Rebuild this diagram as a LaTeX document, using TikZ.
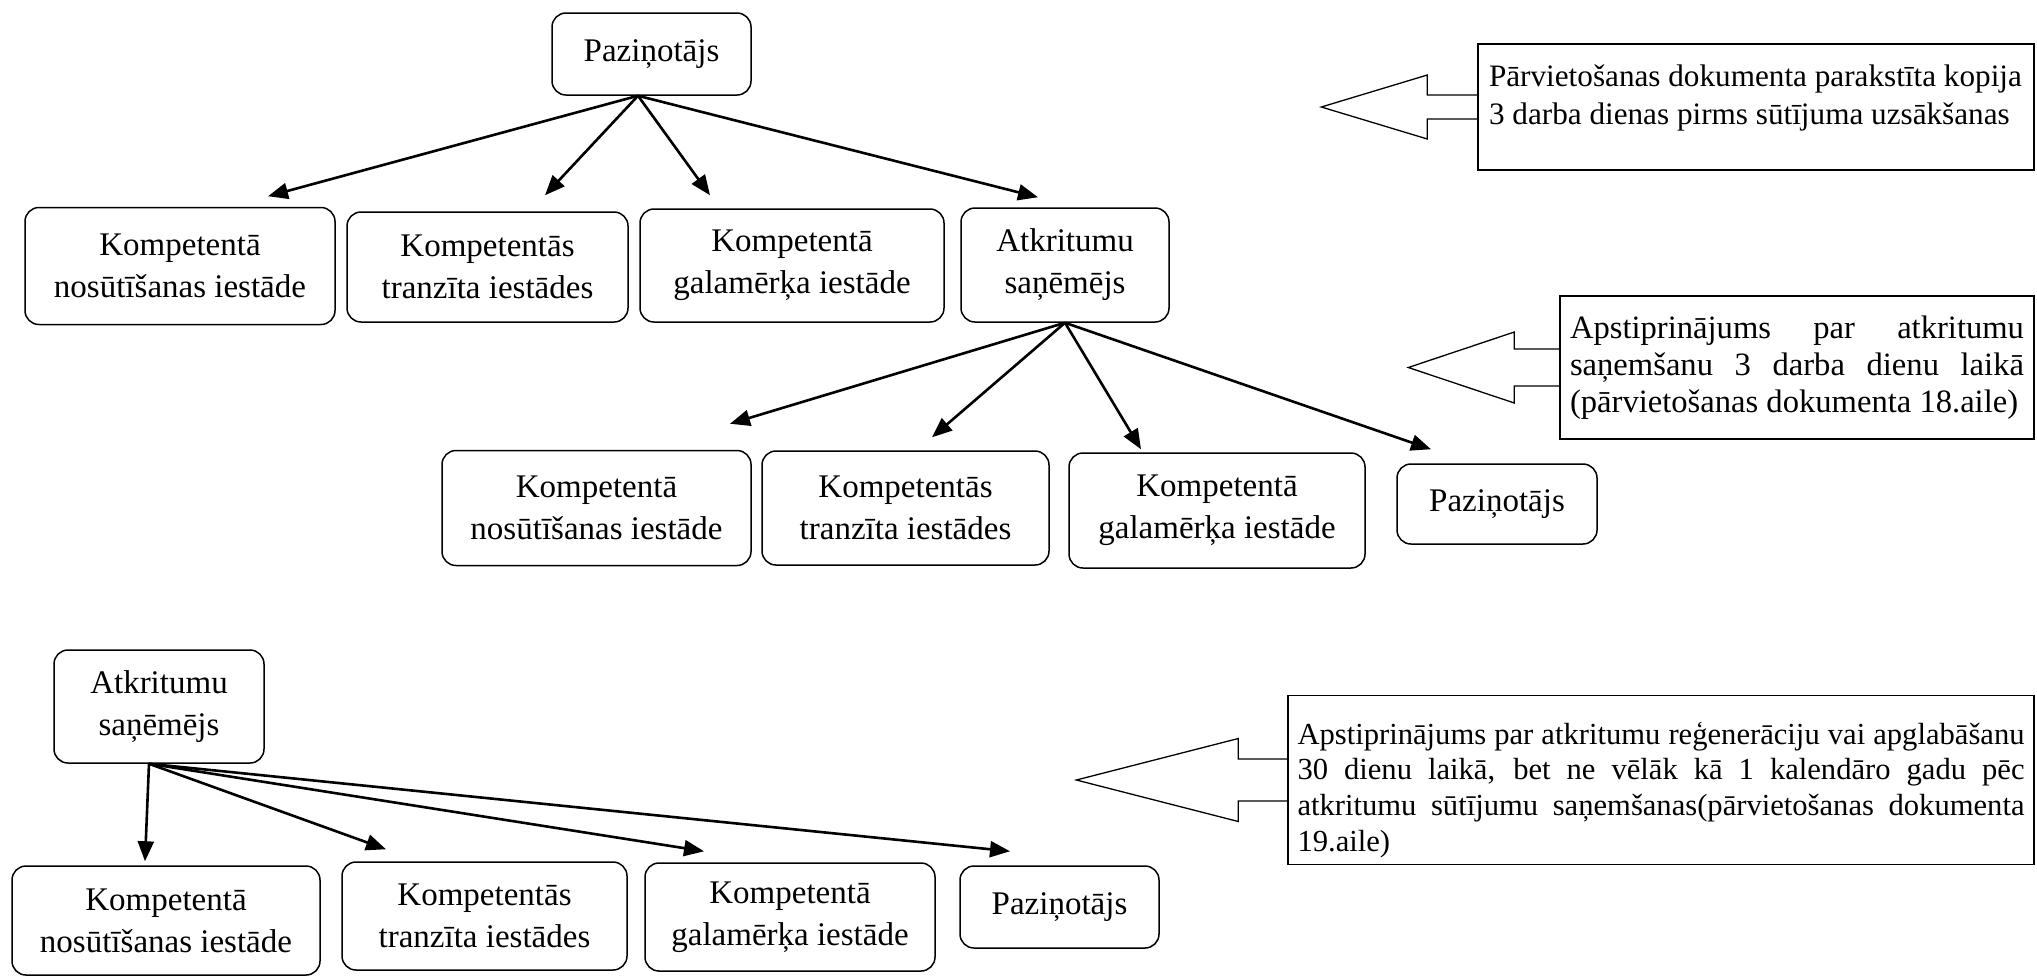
\documentclass[tikz,border=0pt]{standalone}
\usepackage{fontspec}
\setmainfont{Liberation Serif}
\usetikzlibrary{arrows.meta}

\tikzset{
  box/.style={draw, line width=0.75pt, rounded corners=7pt, align=center,
    font=\fontsize{16.5}{21}\selectfont},
  arr/.style={-{Triangle[length=10pt,width=8pt]}, line width=1.3pt},
  note/.style={draw, line width=0.7pt, align=justify},
  pointer/.style={line width=0.65pt},
}

\begin{document}
\begin{tikzpicture}[x=0.5pt, y=-0.5pt]
\useasboundingbox (0,0) rectangle (2037,976);

% first step
\node[box, minimum width=99.5pt, minimum height=41pt] (pz1) at (651.5,54) {Paziņotājs};
\node[box, minimum width=155pt, minimum height=58.5pt] (kn1) at (180,266) {Kompetentā\\nosūtīšanas iestāde};
\node[box, minimum width=140.5pt, minimum height=55pt] (kt1) at (487.5,267) {Kompetentās\\tranzīta iestādes};
\node[box, minimum width=152pt, minimum height=56.5pt] (kg1) at (792,265.5) {Kompetentā\\galamērķa iestāde};
\node[box, minimum width=104pt, minimum height=57pt] (as1) at (1065,265) {Atkritumu\\saņēmējs};

\draw[arr] ([xshift=-6.75pt]pz1.south) -- ([shift={(88,-10.5)}]kn1.north);
\draw[arr] ([xshift=-6.75pt]pz1.south) -- ([shift={(57.5,-16)}]kt1.north);
\draw[arr] ([xshift=-6.75pt]pz1.south) -- ([shift={(-82,-13)}]kg1.north);
\draw[arr] ([xshift=-6.75pt]pz1.south) -- ([shift={(-27,-10)}]as1.north);

\node[note, minimum width=278pt, minimum height=63pt, text width=267pt, inner xsep=5.5pt,
  font=\fontsize{15.6}{19}\selectfont] (c1) at (1756,107)
  {Pārvietošanas dokumenta parakstīta kopija\\3 darba dienas pirms sūtījuma uzsākšanas\par\vspace{-7pt}\mbox{}};
\draw[pointer] ([yshift=6pt]c1.west) -- ++(-25pt,0) -- ++(0,10pt) -- ++(-53pt,-16pt)
  -- ++(53pt,-16pt) -- ++(0,10pt) -- ++(25pt,0);

% second step
\node[box, minimum width=154.5pt, minimum height=57.5pt] (kn2) at (596.5,508) {Kompetentā\\nosūtīšanas iestāde};
\node[box, minimum width=143.5pt, minimum height=57pt] (kt2) at (905.5,508) {Kompetentās\\tranzīta iestādes};
\node[box, minimum width=148pt, minimum height=57.5pt] (kg2) at (1217,510.5) {Kompetentā\\galamērķa iestāde};
\node[box, minimum width=100pt, minimum height=40pt] (pz2) at (1497,504) {Paziņotājs};

\draw[arr] (as1.south) -- ([shift={(133.5,-26)}]kn2.north);
\draw[arr] (as1.south) -- ([shift={(26.5,-13)}]kt2.north);
\draw[arr] (as1.south) -- ([shift={(-76,-3)}]kg2.north);
\draw[arr] (as1.south) -- ([shift={(-66,-14)}]pz2.north);

\node[note, minimum width=237pt, minimum height=71.5pt, text width=227pt, inner xsep=5pt,
  font=\fontsize{16.3}{18.5}\selectfont] (c2) at (1797,367.5)
  {\makebox[\linewidth][s]{Apstiprinājums par atkritumu}\\
   \makebox[\linewidth][s]{saņemšanu 3 darba dienu laikā}\\
   (pārvietošanas dokumenta 18.aile)};
\draw[pointer] ([yshift=9.25pt]c2.west) -- ++(-22.5pt,0) -- ++(0,8.5pt) -- ++(-53pt,-17.75pt)
  -- ++(53pt,-17.75pt) -- ++(0,8.5pt) -- ++(22.5pt,0);

% third step
\node[box, minimum width=105pt, minimum height=56.5pt] (as3) at (159,706.5) {Atkritumu\\saņēmējs};
\node[box, minimum width=154pt, minimum height=54.5pt] (kn3) at (166,920.5) {Kompetentā\\nosūtīšanas iestāde};
\node[box, minimum width=142.5pt, minimum height=54pt] (kt3) at (484.5,916) {Kompetentās\\tranzīta iestādes};
\node[box, minimum width=145pt, minimum height=54pt] (kg3) at (790,917) {Kompetentā\\galamērķa iestāde};
\node[box, minimum width=99.5pt, minimum height=41pt] (pz3) at (1059.5,907) {Paziņotājs};

\draw[arr] ([xshift=-5pt]as3.south) -- ([shift={(-21,-4)}]kn3.north);
\draw[arr] ([xshift=-5pt]as3.south) -- ([shift={(-98.5,-12)}]kt3.north);
\draw[arr] ([xshift=-5pt]as3.south) -- ([shift={(-86,-11)}]kg3.north);
\draw[arr] ([xshift=-5pt]as3.south) -- ([shift={(-49.5,-14)}]pz3.north);

\node[note, minimum width=373pt, minimum height=83pt, text width=363.5pt, inner xsep=4.75pt,
  font=\fontsize{15.3}{17.8}\selectfont] (c3) at (1661,780)
  {\rule{0pt}{21pt}\makebox[\linewidth][s]{Apstiprinājums par atkritumu reģenerāciju vai apglabāšanu}\\
   \makebox[\linewidth][s]{30 dienu laikā, bet ne vēlāk kā 1 kalendāro gadu pēc}\\
   \makebox[\linewidth][s]{atkritumu sūtījumu saņemšanas(pārvietošanas dokumenta}\\
   19.aile)};
\draw[pointer] ([yshift=10.5pt]c3.west) -- ++(-24.5pt,0) -- ++(0,10.25pt) -- ++(-81pt,-20.75pt)
  -- ++(81pt,-20.75pt) -- ++(0,10.25pt) -- ++(24.5pt,0);
\end{tikzpicture}
\end{document}
